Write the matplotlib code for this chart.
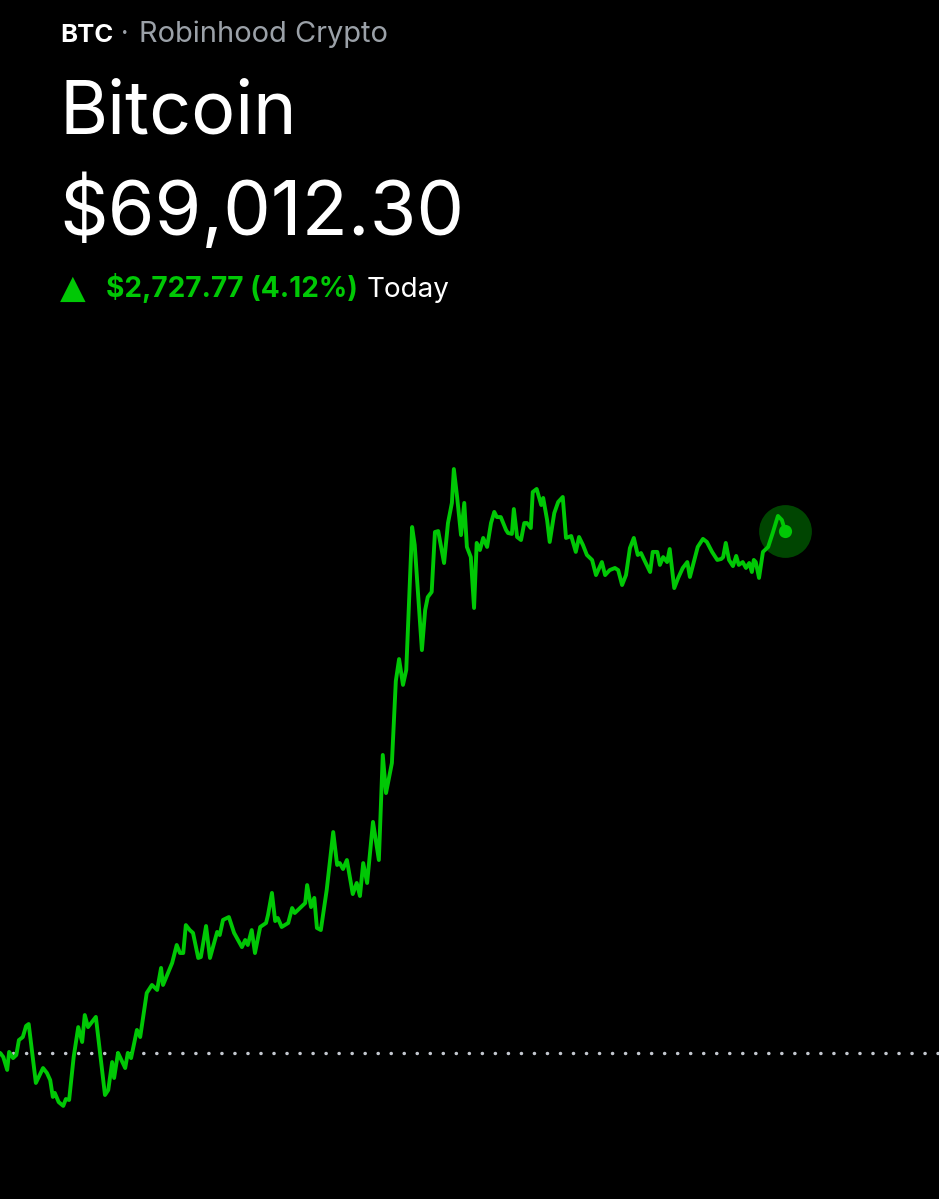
import matplotlib
matplotlib.use("Agg")
import matplotlib.pyplot as plt

# minutes since midnight, BTC price in USD
minutes = [0, 5, 11, 14, 20, 25, 29, 35, 40, 44, 55, 66, 72, 77, 81, 84, 90, 97, 101, 106,
           113, 120, 126, 130, 135, 147, 161, 166, 172, 175, 181, 192, 196, 201, 210, 215,
           225, 233, 241, 247, 250, 264, 271, 276, 281, 285, 291, 296, 304, 308, 316, 322,
           333, 337, 342, 351, 359, 371, 376, 380, 386, 391, 399, 408, 411, 417, 422, 426,
           432, 442, 448, 452, 468, 471, 477, 482, 486, 492, 501, 511, 517, 521, 526, 532,
           541, 547, 552, 557, 563, 572, 581, 587, 592, 601, 607, 612, 618, 623, 632, 636,
           647, 652, 656, 662, 667, 672, 681, 687, 693, 696, 701, 707, 712, 716, 722, 727,
           731, 736, 741, 747, 753, 758, 762, 768, 776, 779, 785, 788, 793, 799, 804, 808,
           814, 817, 823, 830, 833, 839, 843, 850, 856, 863, 868, 876, 883, 888, 894, 900,
           908, 914, 923, 928, 935, 943, 948, 954, 960, 966, 972, 978, 983, 988, 997, 1001,
           1008, 1012, 1017, 1023, 1027, 1034, 1040, 1047, 1054, 1058, 1064, 1070, 1078, 1084,
           1092, 1100, 1106, 1109, 1113, 1118, 1124, 1129, 1133, 1139, 1144, 1149, 1153, 1156,
           1159, 1164, 1170, 1178, 1185, 1193, 1199, 1204]
prices = [66285, 66264, 66196, 66290, 66258, 66274, 66352, 66368, 66426, 66436, 66128, 66206,
          66180, 66143, 66055, 66076, 66028, 66008, 66044, 66039, 66264, 66420, 66342, 66483,
          66420, 66473, 66065, 66091, 66237, 66154, 66285, 66206, 66285, 66258, 66405, 66368,
          66598, 66640, 66614, 66729, 66640, 66755, 66849, 66807, 66807, 66953, 66927, 66912,
          66781, 66786, 66948, 66781, 66917, 66901, 66980, 66995, 66912, 66838, 66875, 66849,
          66927, 66807, 66943, 66964, 67006, 67121, 66974, 66990, 66943, 66964, 67042, 67016,
          67068, 67162, 67047, 67095, 66938, 66927, 67136, 67439, 67267, 67277, 67246, 67293,
          67115, 67173, 67105, 67277, 67173, 67492, 67293, 67842, 67643, 67800, 68228, 68343,
          68208, 68286, 69033, 68939, 68390, 68599, 68667, 68694, 69007, 69012, 68845, 69054,
          69159, 69336, 69190, 68991, 69159, 68929, 68876, 68610, 68950, 68913, 68976, 68929,
          69054, 69112, 69085, 69085, 69018, 69002, 68997, 69127, 68981, 68965, 69054, 69054,
          69028, 69216, 69232, 69148, 69185, 69070, 68955, 69106, 69164, 69190, 68976, 68986,
          68903, 68981, 68939, 68887, 68861, 68782, 68850, 68782, 68808, 68819, 68808, 68730,
          68782, 68923, 68976, 68887, 68897, 68861, 68798, 68903, 68903, 68835, 68876, 68850,
          68918, 68714, 68767, 68819, 68850, 68772, 68850, 68929, 68971, 68955, 68903, 68861,
          68866, 68876, 68950, 68861, 68829, 68882, 68835, 68850, 68819, 68845, 68798, 68861,
          68850, 68767, 68903, 68929, 69002, 69091, 69070, 69012.30]

prev_close = 66284.53
last_price = 69012.30
change = last_price - prev_close
change_pct = change / prev_close * 100

GREEN = "#00c805"
W, H = 939, 1199

fig = plt.figure(figsize=(W / 100, H / 100), dpi=100, facecolor="black")

# chart area: pixel rows 440..1130 of the figure
ax = fig.add_axes([0, (H - 1130) / H, 1, 690 / H])
ax.set_facecolor("black")
ax.plot(minutes, prices, color=GREEN, lw=2.8, solid_joinstyle="round",
        solid_capstyle="round", zorder=3)
ax.axhline(prev_close, color="#c3c7cf", lw=2.5, dashes=(0.05, 3.7),
           dash_capstyle="round", zorder=2)
ax.plot(minutes[-1], prices[-1], "o", ms=38, color=GREEN, alpha=0.35, mec="none", zorder=4)
ax.plot(minutes[-1], prices[-1], "o", ms=9.5, color=GREEN, mec="none", zorder=5)
ax.set_xlim(0, 1440)
ax.set_ylim(65882.16, 69487.82)
ax.axis("off")

font = ["Inter", "DejaVu Sans"]


def put(x, y, s, size, color, weight="normal", family=font):
    fig.text(x / W, 1 - y / H, s, fontsize=size, color=color, fontweight=weight,
             family=family, va="baseline", ha="left")


put(60, 42, "BTC", 18.5, "white", "bold")
put(121, 42, "·", 19, "#9ba1a8")
put(139, 42, "Robinhood Crypto", 20.9, "#9ba1a8")
put(60, 134, "Bitcoin", 53, "white")
put(59, 235, f"${last_price:,.2f}", 54.5, "white")
put(60, 298, "▲", 24, GREEN, family=["DejaVu Sans"])
put(106, 297, f"${change:,.2f} ({change_pct:.2f}%)", 20.2, GREEN, "bold")
put(367, 297, "Today", 20, "white")

fig.savefig("out.png", dpi=100, facecolor="black")
